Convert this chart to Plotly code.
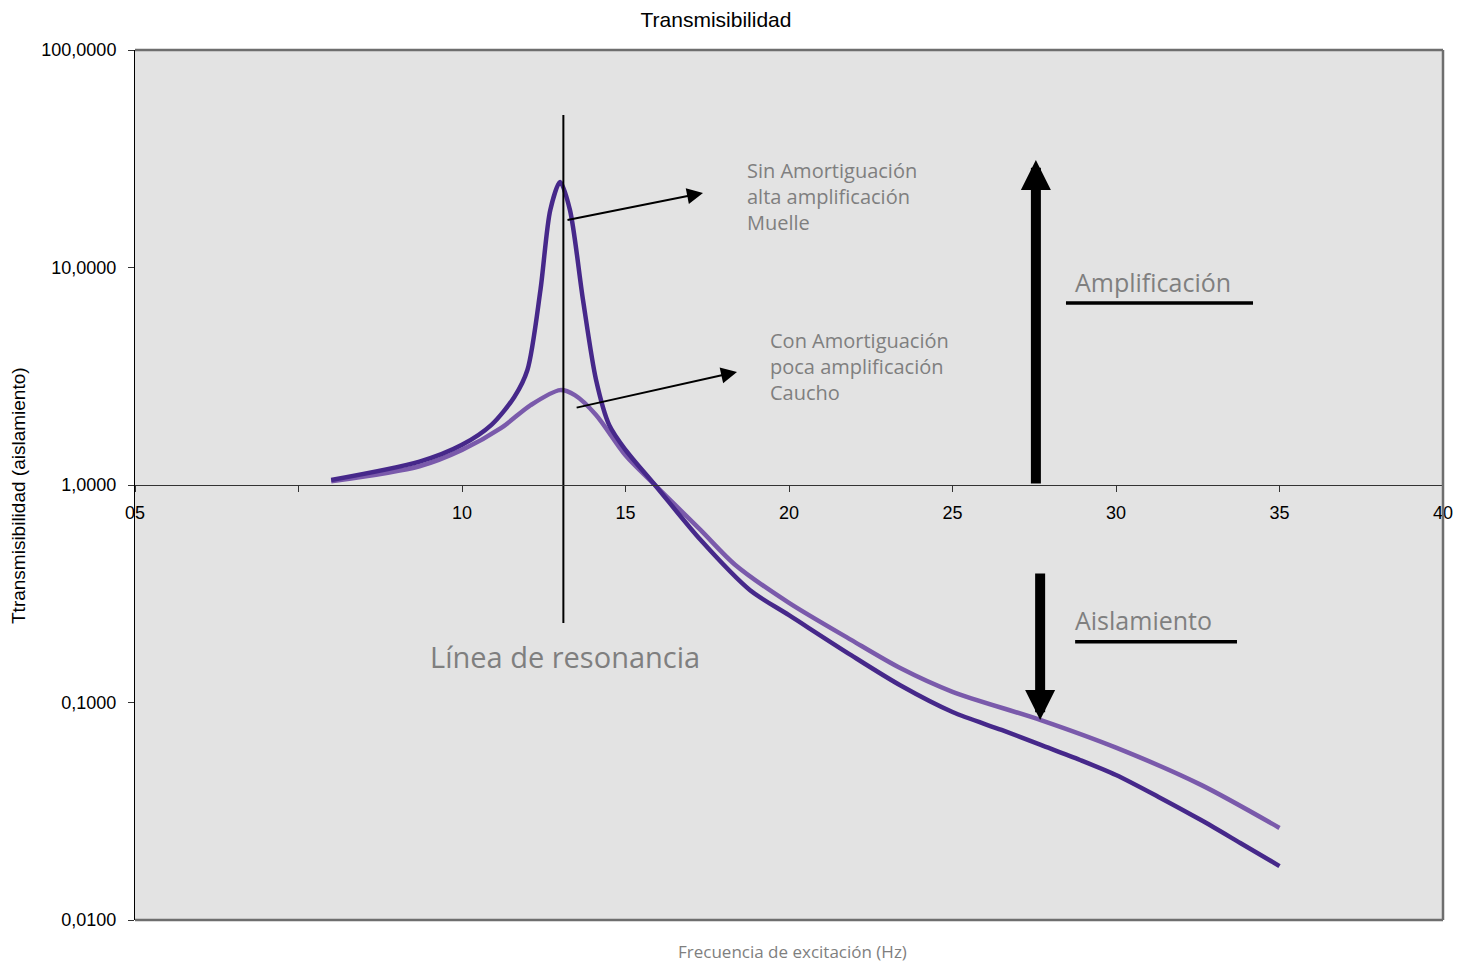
import numpy as np
import plotly.graph_objects as go

# Transmissibility curves (frequency in Hz, transmissibility ratio)
freq_sin = [6.0, 8.7, 10.0, 10.9, 11.6, 12.0, 12.4, 12.7, 13.0, 13.3, 13.7, 14.1,
            14.5, 15.0, 15.9, 17.3, 18.8, 20.0, 21.9, 23.4, 25.0, 26.5, 27.7, 28.9,
            30.0, 31.3, 32.6, 33.8, 35.0]
trans_sin = [1.054, 1.28, 1.53, 1.89, 2.54, 3.38, 7.9, 18.4, 24.7, 18.4, 7.1, 3.04,
             1.89, 1.45, 1.0, 0.558, 0.329, 0.252, 0.165, 0.12, 0.0904, 0.0748, 0.0638,
             0.0544, 0.0464, 0.0368, 0.0288, 0.0226, 0.0177]

freq_con = [6.0, 8.7, 10.0, 11.2, 12.1, 13.0, 13.45, 14.1, 15.0, 15.9, 17.3, 18.35,
            20.0, 21.9, 23.4, 25.0, 27.7, 30.0, 32.6, 35.0]
trans_con = [1.04, 1.22, 1.45, 1.83, 2.33, 2.73, 2.59, 2.1, 1.37, 1.0, 0.62, 0.43,
             0.287, 0.194, 0.144, 0.112, 0.083, 0.062, 0.0418, 0.0265]

x_tickvals = [0, 5, 10, 15, 20, 25, 30, 35, 40]
x_ticktext = ["05", "", "10", "15", "20", "25", "30", "35", "40"]
y_tickvals = [0.01, 0.1, 1, 10, 100]
y_ticktext = ["0,0100", "0,1000", "1,0000", "10,0000", "100,0000"]

# Resonance frequency and the vertical extent of its marker line
f_res = 13.1
res_span = [0.232, 50.3]

DARK = "#46288a"
LIGHT = "#7a5aab"
GREY = "#7f7f7f"
SANS = "Liberation Sans, Arial, Helvetica, sans-serif"
HUMAN = "Open Sans, Noto Sans, sans-serif"

fig = go.Figure()

fig.add_trace(go.Scatter(x=freq_con, y=trans_con, mode="lines",
                         line=dict(color=LIGHT, width=4.5, shape="spline", smoothing=0.8),
                         name="Con Amortiguación", showlegend=False))
fig.add_trace(go.Scatter(x=freq_sin, y=trans_sin, mode="lines",
                         line=dict(color=DARK, width=4.5, shape="spline", smoothing=0.8),
                         name="Sin Amortiguación", showlegend=False))

# Resonance line
fig.add_trace(go.Scatter(x=[f_res, f_res], y=res_span, mode="lines",
                         line=dict(color="black", width=2), showlegend=False,
                         hoverinfo="skip"))

lg = np.log10

annotations = []

def arrow(x0, y0, x1, y1, width, size, head=2):
    annotations.append(dict(
        x=x1, y=lg(y1), ax=x0, ay=lg(y0), xref="x", yref="y", axref="x", ayref="y",
        text="", showarrow=True, arrowhead=head, arrowwidth=width, arrowsize=size,
        arrowcolor="black"))

# thin pointer arrows
arrow(13.18, 16.5, 17.37, 22.0, 2, 1.6)
arrow(13.46, 2.26, 18.41, 3.31, 2, 1.6)
# thick amplification / isolation arrows
arrow(27.55, 1.0, 27.55, 31.2, 10, 0.6)
arrow(27.68, 0.398, 27.68, 0.083, 10, 0.6)

def text(x, y, s, size, xanchor="left"):
    annotations.append(dict(x=x, y=lg(y), xref="x", yref="y", text=s, showarrow=False,
                            xanchor=xanchor, yanchor="middle", align="left",
                            font=dict(family=HUMAN, size=size, color=GREY)))

text(18.65, 21.3, "Sin Amortiguación<br>alta amplificación<br>Muelle", 20)
text(19.36, 3.49, "Con Amortiguación<br>poca amplificación<br>Caucho", 20)
text(28.7, 8.58, "Amplificación", 25)
text(28.7, 0.239, "Aislamiento", 25)
text(8.96, 0.162, "Línea de resonancia", 29)

annotations.append(dict(x=(792 - 135) / 1308, y=(920 - 951) / 870, xref="paper", yref="paper",
                        text="Frecuencia de excitación (Hz)", showarrow=False,
                        xanchor="center", yanchor="middle",
                        font=dict(family=HUMAN, size=17, color=GREY)))
annotations.append(dict(x=(18 - 135) / 1308, y=(920 - 496) / 870, xref="paper", yref="paper",
                        text="Ttransmisibilidad (aislamiento)", showarrow=False,
                        textangle=-90, xanchor="center", yanchor="middle",
                        font=dict(family=SANS, size=19, color="black")))

# underline bars under the labels
shapes = [
    dict(type="line", xref="x", yref="y", x0=28.47, x1=34.19, y0=6.87, y1=6.87,
         line=dict(color="black", width=3.5)),
    dict(type="line", xref="x", yref="y", x0=28.75, x1=33.7, y0=0.19, y1=0.19,
         line=dict(color="black", width=3.5)),
    # frame: grey top, right and bottom edges
    dict(type="line", xref="paper", yref="paper", x0=0, x1=1, y0=1, y1=1,
         line=dict(color="#6e6e6e", width=2.5)),
    dict(type="line", xref="paper", yref="paper", x0=1, x1=1, y0=0, y1=1,
         line=dict(color="#6e6e6e", width=2.5)),
    dict(type="line", xref="paper", yref="paper", x0=0, x1=1, y0=0, y1=0,
         line=dict(color="#6e6e6e", width=2.5)),
]

fig.update_layout(
    width=1473, height=962,
    margin=dict(l=135, r=30, t=50, b=42),
    paper_bgcolor="white", plot_bgcolor="#e3e3e3",
    title=dict(text="Transmisibilidad", x=716 / 1473, xanchor="center",
               y=1 - 20 / 962, yanchor="middle",
               font=dict(family=SANS, size=21, color="black")),
    xaxis=dict(range=[0, 40], tickvals=x_tickvals, ticktext=x_ticktext,
               showgrid=False, zeroline=False, showline=True, linecolor="#333333",
               linewidth=1, ticks="outside", ticklen=6, tickcolor="#333333",
               anchor="free", position=0.5, ticklabelstandoff=5,
               tickfont=dict(family=SANS, size=18, color="black")),
    yaxis=dict(type="log", range=[-2, 2], tickvals=y_tickvals, ticktext=y_ticktext,
               showgrid=False, zeroline=False, showline=True, linecolor="black",
               linewidth=1, ticks="outside", ticklen=6, tickcolor="#333333",
               ticklabelstandoff=8,
               tickfont=dict(family=SANS, size=18, color="black")),
    annotations=annotations,
    shapes=shapes,
    showlegend=False,
)

fig.write_html("out.html")
